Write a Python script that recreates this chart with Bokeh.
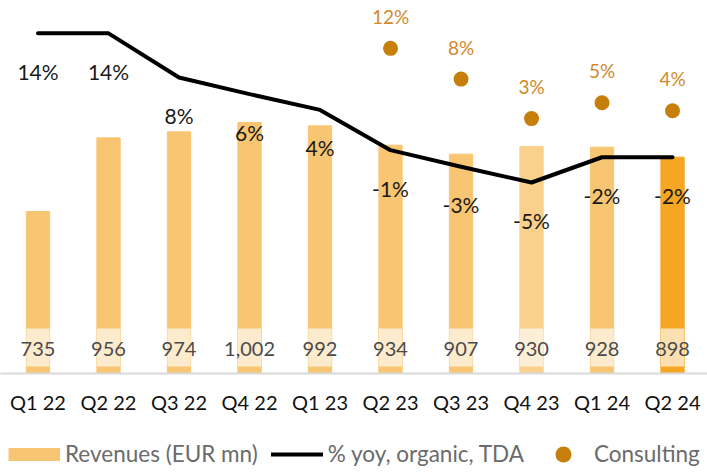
from bokeh.plotting import figure
from bokeh.layouts import column
from bokeh.models import (Range1d, FixedTicker, ColumnDataSource, Legend, LegendItem)
from bokeh.core.properties import value
from bokeh.embed import file_html
from bokeh.resources import INLINE

# ---- data ----
quarters = ["Q1 22", "Q2 22", "Q3 22", "Q4 22", "Q1 23",
            "Q2 23", "Q3 23", "Q4 23", "Q1 24", "Q2 24"]
revenues = [735, 956, 974, 1002, 992, 934, 907, 930, 928, 898]
revenue_labels = ["735", "956", "974", "1,002", "992", "934", "907", "930", "928", "898"]
yoy_organic = [13.8, 13.8, 8.2, 6.1, 4.1, -1.0, -3.1, -5.1, -1.9, -1.9]
yoy_labels = ["14%", "14%", "8%", "6%", "4%", "-1%", "-3%", "-5%", "-2%", "-2%"]
consulting_quarters = ["Q2 23", "Q3 23", "Q4 23", "Q1 24", "Q2 24"]
consulting = [11.9, 8.0, 3.0, 5.0, 4.0]
consulting_labels = ["12%", "8%", "3%", "5%", "4%"]
legend_labels = ["Revenues (EUR mn)", "% yoy, organic, TDA", "Consulting"]

# ---- style ----
FONT = "Lato"
BAR = "#F8C672"
DOT = "#C77F0B"
bar_colors = [BAR] * 7 + ["#F9D08C", BAR, "#F5A623"]
W = 707
H_MAIN, H_LEG = 440, 32
FRAME_H = 373
Y0, Y1 = 249, 1368
P0, P1 = -29.3, 17.96

xs = list(range(len(quarters)))
cx = [quarters.index(q) for q in consulting_quarters]

fig = figure(width=W, height=H_MAIN, output_backend="svg", toolbar_location=None,
             x_range=Range1d(-0.532, 9.496), y_range=Range1d(Y0, Y1),
             y_axis_location=None, min_border_left=0, min_border_right=0,
             min_border_top=0, min_border_bottom=H_MAIN - FRAME_H)
fig.extra_y_ranges = {"pct": Range1d(P0, P1)}
fig.grid.visible = False
fig.outline_line_color = None
fig.background_fill_color = "white"
fig.border_fill_color = "white"

src = ColumnDataSource(dict(x=xs, rev=revenues, lab=revenue_labels, col=bar_colors,
                            yoy=yoy_organic, yl=yoy_labels))
fig.vbar(x="x", top="rev", bottom=0, width=0.33, color="col", source=src)

upp = (Y1 - Y0) / FRAME_H  # data units per pixel
fig.vbar(x="x", bottom=Y0 + 7 * upp, top=Y0 + 45 * upp, width=0.33,
         fill_color="white", fill_alpha=0.65, line_color=None, source=src)
fig.text(x="x", y=Y0, text="lab", source=src, y_offset=-25,
         text_align="center", text_baseline="middle",
         text_font=value(FONT), text_font_size="20px", text_color="#4a4a4a")

fig.line(x="x", y="yoy", source=src, y_range_name="pct",
         line_color="black", line_width=4, line_cap="round", line_join="round")
fig.text(x="x", y="yoy", text="yl", source=src, y_range_name="pct", y_offset=38,
         text_align="center", text_baseline="middle",
         text_font=value(FONT), text_font_size="21px", text_color="#1a1a1a")

csrc = ColumnDataSource(dict(x=cx, y=consulting, lab=consulting_labels))
fig.ellipse(x="x", y="y", source=csrc, y_range_name="pct",
            width=15, height=15, width_units="screen", height_units="screen",
            fill_color=DOT, line_color=None)
fig.text(x="x", y="y", text="lab", source=csrc, y_range_name="pct", y_offset=-32,
         text_align="center", text_baseline="middle",
         text_font=value(FONT), text_font_size="19px", text_color="#D08A2A")

# x axis
ax = fig.xaxis[0]
ax.ticker = FixedTicker(ticks=xs)
ax.major_label_overrides = {i: q for i, q in enumerate(quarters)}
ax.major_tick_line_color = None
ax.minor_tick_line_color = None
ax.axis_line_color = "#D9D9D9"
ax.axis_line_width = 2
ax.major_label_standoff = 10
ax.major_label_text_font = FONT
ax.major_label_text_font_size = "20px"
ax.major_label_text_color = "#111111"

# legend strip (separate small figure so the legend is not clipped)
leg = figure(width=W, height=H_LEG, output_backend="svg", toolbar_location=None,
             x_range=Range1d(0, 1), y_range=Range1d(0, 1),
             x_axis_location=None, y_axis_location=None,
             min_border=0, outline_line_color=None)
leg.grid.visible = False
nan = [float("nan")]
r_bar = leg.line(x=nan, y=nan, line_color=BAR, line_width=13, line_cap="butt")
r_line = leg.line(x=nan, y=nan, line_color="black", line_width=4, line_cap="round")
r_dot = leg.ellipse(x=nan, y=nan, width=15, height=15, width_units="screen",
                    height_units="screen", fill_color=DOT, line_color=None)
legend = Legend(items=[
    LegendItem(label=legend_labels[0], renderers=[r_bar]),
    LegendItem(label=legend_labels[1], renderers=[r_line]),
    LegendItem(label=legend_labels[2], renderers=[r_dot]),
], orientation="horizontal", location=(8, 5), glyph_width=52, glyph_height=20,
    label_standoff=5, spacing=13, padding=0, margin=0,
    border_line_color=None, background_fill_alpha=0,
    label_text_font=FONT, label_text_font_size="22.5px", label_text_color="#6b6b6b")
leg.add_layout(legend, "center")

p = column(fig, leg, spacing=0)
open("out.html", "w").write(file_html(p, INLINE))
